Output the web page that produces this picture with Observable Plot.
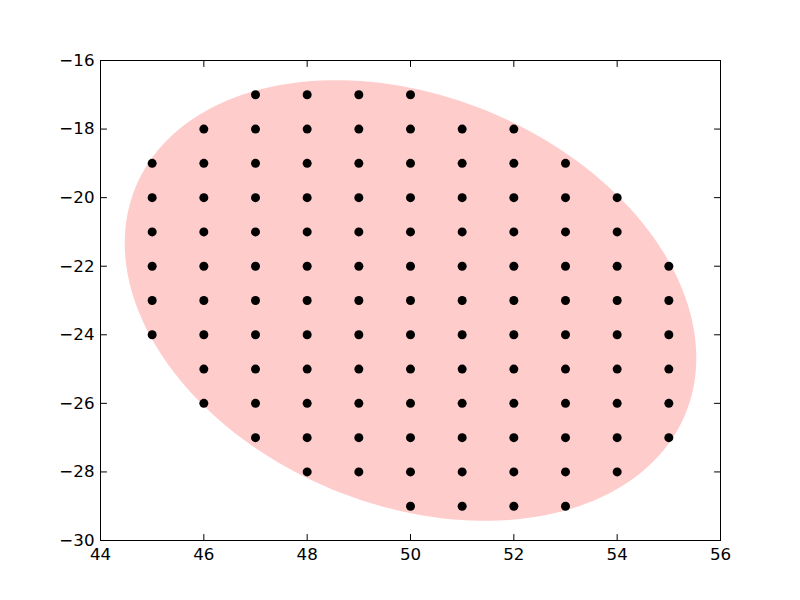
<!DOCTYPE html>
<html>
<head>
<meta charset="utf-8">
<script src="https://cdn.jsdelivr.net/npm/d3@7"></script>
<script src="https://cdn.jsdelivr.net/npm/@observablehq/plot@0.6"></script>
<style>
  html, body { margin: 0; padding: 0; background: white; }
</style>
</head>
<body>
<div id="chart"></div>
<script>
// Grid points (x column -> y values)
const col45 = [-19, -20, -21, -22, -23, -24];
const col46 = [-18, -19, -20, -21, -22, -23, -24, -25, -26];
const col47 = [-17, -18, -19, -20, -21, -22, -23, -24, -25, -26, -27];
const col48 = [-17, -18, -19, -20, -21, -22, -23, -24, -25, -26, -27, -28];
const col49 = [-17, -18, -19, -20, -21, -22, -23, -24, -25, -26, -27, -28];
const col50 = [-17, -18, -19, -20, -21, -22, -23, -24, -25, -26, -27, -28, -29];
const col51 = [-18, -19, -20, -21, -22, -23, -24, -25, -26, -27, -28, -29];
const col52 = [-18, -19, -20, -21, -22, -23, -24, -25, -26, -27, -28, -29];
const col53 = [-19, -20, -21, -22, -23, -24, -25, -26, -27, -28, -29];
const col54 = [-20, -21, -22, -23, -24, -25, -26, -27, -28];
const col55 = [-22, -23, -24, -25, -26, -27];
const columnX = [45, 46, 47, 48, 49, 50, 51, 52, 53, 54, 55];
const columns = [col45, col46, col47, col48, col49, col50, col51, col52, col53, col54, col55];

// Ellipse patch parameters (data units): center, full width, full height, rotation (deg)
const ellipseCenter = [50, -23];
const ellipseSize = [10.05, 13.66];
const ellipseAngle = [30];

// Tick values
const xTicks = [44, 46, 48, 50, 52, 54, 56];
const yTicks = [-30, -28, -26, -24, -22, -20, -18, -16];

const points = [];
columnX.forEach((x, i) => columns[i].forEach(y => points.push({x, y})));

// Outline of the ellipse patch built from its parameters
const a = ellipseSize[0] / 2, b = ellipseSize[1] / 2;
const th = ellipseAngle[0] * Math.PI / 180;
const ellipse = d3.range(0, 360, 2).map(deg => {
  const t = deg * Math.PI / 180;
  const u = a * Math.cos(t), v = b * Math.sin(t);
  return {
    x: ellipseCenter[0] + u * Math.cos(th) - v * Math.sin(th),
    y: ellipseCenter[1] + u * Math.sin(th) + v * Math.cos(th)
  };
});

const fmt = d => String(d).replace("-", "\u2212");
const T = 6; // tick length px
const tickShape = {draw(ctx, l) { ctx.moveTo(0, 0); ctx.lineTo(0, -l); }};
const tickOpts = {length: T, anchor: "start", shape: tickShape, stroke: "black", strokeWidth: 1};

const chart = Plot.plot({
  width: 800,
  height: 600,
  marginLeft: 100,
  marginRight: 80,
  marginTop: 60,
  marginBottom: 60,
  style: {fontFamily: "DejaVu Sans", fontSize: "16.67px", background: "white", color: "black"},
  x: {domain: [44, 56], label: null},
  y: {domain: [-30, -16], label: null},
  marks: [
    Plot.line(ellipse, {x: "x", y: "y", curve: "linear-closed", fill: "#ffcccc", stroke: "none"}),
    Plot.dot(points, {x: "x", y: "y", r: 4.5, fill: "black", stroke: "none"}),
    // inward ticks on all four sides
    Plot.vector(xTicks, {...tickOpts, x: d => d, y: -30, rotate: 0}),
    Plot.vector(xTicks, {...tickOpts, x: d => d, y: -16, rotate: 180}),
    Plot.vector(yTicks, {...tickOpts, y: d => d, x: 44, rotate: 90}),
    Plot.vector(yTicks, {...tickOpts, y: d => d, x: 56, rotate: -90}),
    Plot.axisX(xTicks, {anchor: "bottom", tickSize: 0, tickPadding: 8, tickFormat: fmt, fontSize: 16.67}),
    Plot.axisY(yTicks, {anchor: "left", tickSize: 0, tickPadding: 6, tickFormat: fmt, fontSize: 16.67}),
    Plot.frame({stroke: "black", strokeWidth: 1})
  ]
});
document.getElementById("chart").appendChild(chart);
</script>
</body>
</html>
